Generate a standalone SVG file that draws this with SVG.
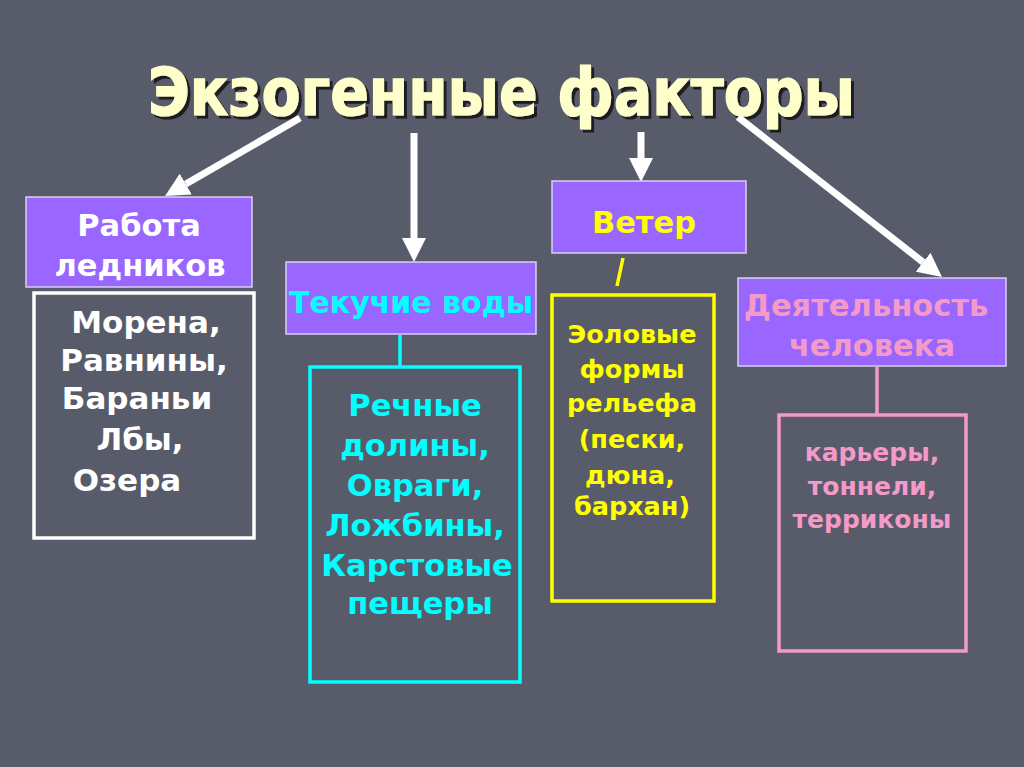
<svg xmlns="http://www.w3.org/2000/svg" width="1024" height="767" viewBox="0 0 1024 767">
<defs>
<marker id="ah" markerUnits="userSpaceOnUse" viewBox="0 -12 24 24" refX="0" refY="0" markerWidth="24" markerHeight="24" orient="auto">
<path d="M0,-12 L24,0 L0,12 z" fill="#ffffff"/>
</marker>
<filter id="sh" x="-5%" y="-20%" width="110%" height="150%">
<feDropShadow dx="3" dy="3" stdDeviation="0.6" flood-color="#1e1e24" flood-opacity="1"/>
</filter>
<style>
.bg{fill:#585b6a}
.title{font-family:"DejaVu Sans Condensed","DejaVu Sans",sans-serif;font-weight:bold;font-size:66px;fill:#ffffcc;stroke:#ffffcc;stroke-width:1.2;filter:url(#sh)}
.hdr{fill:#9966ff;stroke:#d8d0f0;stroke-width:1.5}
.t{font-family:"DejaVu Sans",sans-serif;font-weight:bold;text-anchor:middle}
.arrow{stroke:#ffffff;stroke-width:7;fill:none;marker-end:url(#ah)}
.box{fill:none;stroke-width:3.5}
</style>
</defs>
<rect class="bg" x="0" y="0" width="1024" height="767"/>
<g id="title">
<text class="title" x="148" y="115" textLength="707" lengthAdjust="spacingAndGlyphs">Экзогенные факторы</text>
</g>
<g id="connectors">
<line class="arrow" x1="300" y1="118" x2="185.8" y2="184"/>
<line class="arrow" x1="414" y1="133" x2="414" y2="238"/>
<line class="arrow" x1="641" y1="132" x2="641" y2="158"/>
<line class="arrow" x1="738" y1="117" x2="923.1" y2="262.2"/>
<line x1="400" y1="335" x2="400" y2="367" stroke="#00ffff" stroke-width="3.5"/>
<line x1="623" y1="258" x2="617" y2="286" stroke="#ffff00" stroke-width="3.5"/>
<line x1="877" y1="367" x2="877" y2="415" stroke="#f49ac8" stroke-width="3.5"/>
</g>
<g id="glaciers">
<rect class="hdr" x="26" y="197" width="226" height="90"/>
<text class="t" font-size="30.5" fill="#ffffff"><tspan x="139" y="236">Работа</tspan><tspan x="140" y="276">ледников</tspan></text>
</g>
<g id="glaciers-forms">
<rect class="box" x="34" y="293" width="220" height="245" stroke="#ffffff"/>
<text class="t" font-size="31" fill="#ffffff"><tspan x="146" y="333">Морена,</tspan><tspan x="144" y="371">Равнины,</tspan><tspan x="137" y="409">Бараньи</tspan><tspan x="140" y="450">Лбы,</tspan><tspan x="127" y="491">Озера</tspan></text>
</g>
<g id="water">
<rect class="hdr" x="286" y="262" width="250" height="72"/>
<text class="t" x="411" y="313" font-size="30" fill="#00ffff">Текучие воды</text>
</g>
<g id="water-forms">
<rect class="box" x="310" y="367" width="210" height="315" stroke="#00ffff"/>
<text class="t" font-size="30.5" fill="#00ffff"><tspan x="415" y="416">Речные</tspan><tspan x="415" y="456">долины,</tspan><tspan x="415" y="496">Овраги,</tspan><tspan x="415" y="536">Ложбины,</tspan><tspan x="417" y="576">Карстовые</tspan><tspan x="420" y="614">пещеры</tspan></text>
</g>
<g id="wind">
<rect class="hdr" x="552" y="181" width="194" height="72"/>
<text class="t" x="644" y="233" font-size="30.5" fill="#ffff00">Ветер</text>
</g>
<g id="wind-forms">
<rect class="box" x="552" y="295" width="162" height="306" stroke="#ffff00"/>
<text class="t" font-size="25.5" fill="#ffff00"><tspan x="632" y="343">Эоловые</tspan><tspan x="632" y="378">формы</tspan><tspan x="632" y="412">рельефа</tspan><tspan x="632" y="448">(пески,</tspan><tspan x="630" y="484">дюна,</tspan><tspan x="632" y="515">бархан)</tspan></text>
</g>
<g id="human">
<rect class="hdr" x="738" y="278" width="268" height="88"/>
<text class="t" font-size="30.5" fill="#f49ac8"><tspan x="866" y="316">Деятельность</tspan><tspan x="872" y="356">человека</tspan></text>
</g>
<g id="human-forms">
<rect class="box" x="779" y="415" width="187" height="236" stroke="#f49ac8"/>
<text class="t" font-size="25" fill="#f49ac8"><tspan x="872" y="461">карьеры,</tspan><tspan x="872" y="495">тоннели,</tspan><tspan x="872" y="528">терриконы</tspan></text>
</g>
</svg>
